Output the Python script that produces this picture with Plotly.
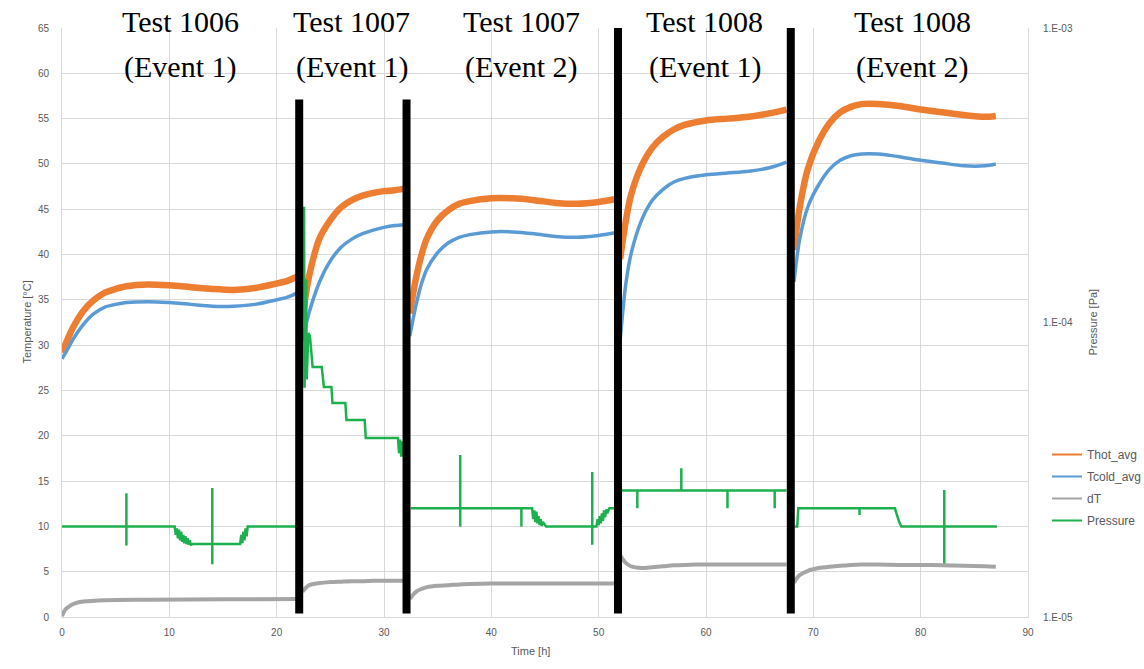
import plotly.graph_objects as go

# ---------------- data ----------------
t_seg1 = [0, 0.5, 1, 2, 3, 4, 5, 6, 8, 10, 12, 14, 16, 18, 20, 21, 22]
thot_seg1 = [29.2, 30.6, 31.9, 33.8, 35.0, 35.8, 36.2, 36.5, 36.7, 36.6, 36.4, 36.2, 36.1, 36.3, 36.8, 37.1, 37.6]
tcold_seg1 = [28.5, 29.5, 30.6, 32.3, 33.5, 34.2, 34.5, 34.7, 34.8, 34.7, 34.5, 34.3, 34.3, 34.5, 35.0, 35.3, 35.8]
t_dt_seg1 = [0, 0.3, 0.7, 1.2, 2, 4, 8, 15, 22]
dt_seg1 = [0.1, 0.8, 1.2, 1.5, 1.7, 1.85, 1.9, 1.95, 2.0]

t_seg2 = [22.4, 23, 24, 25, 26, 27, 28, 29, 30, 31, 32]
thot_seg2 = [33.0, 37.5, 41.8, 43.8, 45.2, 46.0, 46.5, 46.8, 47.0, 47.1, 47.3]
tcold_seg2 = [30.5, 33.5, 37.0, 39.3, 40.8, 41.7, 42.3, 42.7, 43.0, 43.2, 43.3]
dt_seg2 = [2.8, 3.5, 3.75, 3.85, 3.9, 3.95, 3.95, 4.0, 4.0, 4.0, 4.0]

t_seg3 = [32.4, 33, 33.5, 34, 35, 36, 37, 38, 40, 42, 44, 46, 48, 50, 51.5]
thot_seg3 = [33.5, 37.5, 40.0, 41.8, 43.8, 44.9, 45.6, 45.9, 46.2, 46.2, 46.0, 45.7, 45.6, 45.8, 46.1]
tcold_seg3 = [31.0, 34.5, 36.8, 38.4, 40.2, 41.3, 41.9, 42.2, 42.5, 42.5, 42.3, 42.0, 41.9, 42.1, 42.4]
dt_seg3 = [2.0, 2.8, 3.1, 3.3, 3.45, 3.5, 3.6, 3.65, 3.7, 3.7, 3.7, 3.7, 3.7, 3.7, 3.7]

t_seg4 = [52.0, 52.5, 53, 54, 55, 56, 57, 58, 60, 62, 64, 66, 67.5]
thot_seg4 = [39.5, 43.5, 46.5, 49.8, 51.8, 53.0, 53.8, 54.3, 54.8, 55.0, 55.2, 55.6, 56.0]
tcold_seg4 = [30.5, 36.5, 40.0, 43.8, 46.0, 47.2, 48.0, 48.4, 48.8, 49.0, 49.2, 49.6, 50.2]
dt_seg4 = [6.8, 6.0, 5.6, 5.4, 5.5, 5.6, 5.7, 5.75, 5.8, 5.8, 5.8, 5.8, 5.8]

t_seg5 = [68.2, 68.7, 69.5, 70.5, 71.5, 72.5, 73.5, 74.5, 76, 78, 80, 82, 84, 86, 87]
thot_seg5 = [40.5, 45.0, 49.5, 52.5, 54.5, 55.7, 56.3, 56.6, 56.6, 56.4, 56.0, 55.7, 55.4, 55.2, 55.3]
tcold_seg5 = [37.0, 41.5, 45.3, 47.7, 49.4, 50.4, 50.9, 51.1, 51.1, 50.8, 50.4, 50.1, 49.8, 49.8, 50.0]
dt_seg5 = [3.8, 4.6, 5.1, 5.4, 5.55, 5.65, 5.75, 5.8, 5.8, 5.75, 5.75, 5.7, 5.65, 5.6, 5.55]

# Pressure [Pa] (secondary log axis)
tp_seg1 = [0, 6.0, 6.0, 6.0, 6.0, 10.5, 10.6, 10.7, 10.8, 10.9, 11.0, 11.1, 11.2, 11.3, 11.4, 11.5, 11.6,
           11.7, 11.8, 11.9, 12.0, 12.2, 14.0, 14.0, 14.0, 14.0, 16.6, 16.7, 16.8, 16.9, 17.0, 17.1, 17.2,
           17.3, 17.5, 21.9, 21.95, 22.0]
p_seg1 = [2.03e-5, 2.03e-5, 2.63e-5, 1.75e-5, 2.03e-5, 2.03e-5, 1.9e-5, 2.0e-5, 1.85e-5, 1.98e-5, 1.82e-5,
          1.95e-5, 1.8e-5, 1.9e-5, 1.78e-5, 1.88e-5, 1.77e-5, 1.85e-5, 1.76e-5, 1.82e-5, 1.76e-5, 1.77e-5,
          1.77e-5, 2.74e-5, 1.51e-5, 1.77e-5, 1.77e-5, 1.9e-5, 1.78e-5, 1.95e-5, 1.82e-5, 2.0e-5, 1.88e-5,
          2.03e-5, 2.03e-5, 2.03e-5, 2.7e-5, 2.03e-5]
tp_seg2 = [22.55, 22.6, 22.75, 22.8, 22.95, 23.1, 23.35, 24.2, 24.4, 25.1, 25.2, 26.4, 26.5, 28.2, 28.3,
           31.3, 31.4, 31.5, 31.6, 31.7, 31.8, 31.9, 32.0]
p_seg2 = [2.47e-4, 6.0e-5, 1.4e-4, 6.4e-5, 9.2e-5, 9.0e-5, 7.06e-5, 7.06e-5, 6.04e-5, 6.04e-5, 5.33e-5,
          5.33e-5, 4.67e-5, 4.67e-5, 4.05e-5, 4.05e-5, 3.6e-5, 4.0e-5, 3.5e-5, 3.95e-5, 3.5e-5, 3.9e-5, 3.49e-5]
tp_seg3 = [32.5, 37.1, 37.1, 37.1, 37.1, 42.8, 42.8, 42.8, 43.8, 43.9, 44.0, 44.1, 44.2, 44.3, 44.4, 44.5,
           44.6, 44.7, 44.8, 45.1, 49.4, 49.4, 49.4, 49.4, 49.8, 49.9, 50.0, 50.1, 50.2, 50.3, 50.4, 50.5,
           50.6, 50.7, 50.8, 51.0, 51.8]
p_seg3 = [2.34e-5, 2.34e-5, 3.55e-5, 2.03e-5, 2.34e-5, 2.34e-5, 2.03e-5, 2.34e-5, 2.34e-5, 2.15e-5, 2.3e-5,
          2.1e-5, 2.28e-5, 2.08e-5, 2.2e-5, 2.05e-5, 2.15e-5, 2.04e-5, 2.1e-5, 2.03e-5, 2.03e-5, 3.11e-5,
          1.76e-5, 2.03e-5, 2.03e-5, 2.15e-5, 2.05e-5, 2.2e-5, 2.08e-5, 2.25e-5, 2.12e-5, 2.3e-5, 2.18e-5,
          2.32e-5, 2.25e-5, 2.34e-5, 2.34e-5]
tp_seg4 = [52.1, 53.6, 53.6, 53.6, 57.7, 57.7, 57.7, 62.0, 62.0, 62.0, 66.4, 66.4, 66.4, 67.5]
p_seg4 = [2.69e-5, 2.69e-5, 2.34e-5, 2.69e-5, 2.69e-5, 3.2e-5, 2.69e-5, 2.69e-5, 2.34e-5, 2.69e-5,
          2.69e-5, 2.34e-5, 2.69e-5, 2.69e-5]
tp_seg5 = [68.3, 68.5, 68.6, 74.3, 74.3, 74.3, 77.6, 77.8, 78.0, 78.2, 82.2, 82.2, 82.2, 82.2, 87.1]
p_seg5 = [2.03e-5, 2.03e-5, 2.34e-5, 2.34e-5, 2.22e-5, 2.34e-5, 2.34e-5, 2.2e-5, 2.1e-5, 2.03e-5,
          2.03e-5, 2.7e-5, 1.52e-5, 2.03e-5, 2.03e-5]

event_times = [22.1, 32.1, 51.8, 67.9]
event_tops = [57.1, 57.1, 65, 65]
label_centers = [11.0, 27.0, 42.8, 59.9, 79.2]
label_line1 = ["Test 1006", "Test 1007", "Test 1007", "Test 1008", "Test 1008"]
label_line2 = ["(Event 1)", "(Event 1)", "(Event 2)", "(Event 1)", "(Event 2)"]

x_ticks = [0, 10, 20, 30, 40, 50, 60, 70, 80, 90]
y_ticks = [0, 5, 10, 15, 20, 25, 30, 35, 40, 45, 50, 55, 60, 65]
p_ticks = [1e-5, 1e-4, 1e-3]
p_ticktext = ["1.E-05", "1.E-04", "1.E-03"]

ORANGE = "#ED7D31"
BLUE = "#5B9BD5"
GREY = "#A5A5A5"
GREEN = "#1DB04E"


def joined(*segs):
    out = []
    for i, s in enumerate(segs):
        if i:
            out.append(None)
        out.extend(s)
    return out


fig = go.Figure()

t_all = joined(t_seg1, t_seg2, t_seg3, t_seg4, t_seg5)
fig.add_trace(go.Scatter(x=t_all, y=joined(thot_seg1, thot_seg2, thot_seg3, thot_seg4, thot_seg5),
                         mode="lines", line=dict(color=ORANGE, width=6.5, shape="spline", smoothing=0.8),
                         showlegend=False, hoverinfo="skip"))
fig.add_trace(go.Scatter(x=t_all, y=joined(tcold_seg1, tcold_seg2, tcold_seg3, tcold_seg4, tcold_seg5),
                         mode="lines", line=dict(color=BLUE, width=3.5, shape="spline", smoothing=0.8),
                         showlegend=False, hoverinfo="skip"))
fig.add_trace(go.Scatter(x=joined(t_dt_seg1, t_seg2, t_seg3, t_seg4, t_seg5),
                         y=joined(dt_seg1, dt_seg2, dt_seg3, dt_seg4, dt_seg5),
                         mode="lines", line=dict(color=GREY, width=4, shape="spline", smoothing=0.8),
                         showlegend=False, hoverinfo="skip"))
fig.add_trace(go.Scatter(x=joined(tp_seg1, tp_seg2, tp_seg3, tp_seg4, tp_seg5),
                         y=joined(p_seg1, p_seg2, p_seg3, p_seg4, p_seg5), yaxis="y2",
                         mode="lines", line=dict(color=GREEN, width=2.5),
                         showlegend=False, hoverinfo="skip"))

# legend entries (thin lines as in the reference legend)
for name, col in [("Thot_avg", ORANGE), ("Tcold_avg", BLUE), ("dT", GREY), ("Pressure", GREEN)]:
    fig.add_trace(go.Scatter(x=[None], y=[None], mode="lines", name=name, legendgroup=name,
                             line=dict(color=col, width=2)))

shapes = []
# white boxes behind the test labels
for c in label_centers:
    shapes.append(dict(type="rect", xref="x", yref="paper", x0=c - 6.6, x1=c + 6.6,
                       y0=(617 - 96) / 589, y1=1.06, fillcolor="white", line=dict(width=0), layer="between"))
for tx, top in zip(event_times, event_tops):
    shapes.append(dict(type="line", xref="x", yref="y", x0=tx, x1=tx, y0=0.4, y1=top,
                       line=dict(color="black", width=8), layer="above"))

annotations = []
for c, l1, l2 in zip(label_centers, label_line1, label_line2):
    for txt, ypx in [(l1, 22), (l2, 67)]:
        annotations.append(dict(x=c, xref="x", y=(617 - ypx) / 589, yref="paper", text=txt,
                                showarrow=False, xanchor="center", yanchor="middle",
                                font=dict(family="Liberation Serif", size=30, color="black")))

axis_font = dict(family="Liberation Sans", size=11, color="#595959")
annotations += [
    dict(x=(18 - 62) / 966, xref="paper", y=0.5, yref="paper", text="Temperature [°C]", textangle=-90,
         showarrow=False, font=axis_font),
    dict(x=(1100 - 62) / 966, xref="paper", y=0.5, yref="paper", text="Pressure [Pa]", textangle=-90,
         showarrow=False, font=axis_font),
    dict(x=(530 - 62) / 966, xref="paper", y=(617 - 659) / 589, yref="paper", text="Time [h]",
         showarrow=False, font=axis_font),
]

tick_font = dict(family="Liberation Sans", size=10, color="#595959")
fig.update_layout(
    width=1144, height=669,
    margin=dict(l=62, r=116, t=28, b=52, autoexpand=False),
    paper_bgcolor="white", plot_bgcolor="white",
    xaxis=dict(range=[0, 90], tickvals=x_ticks, showgrid=True, gridcolor="#D9D9D9", gridwidth=1,
               showline=True, linecolor="#D9D9D9", zeroline=False, tickfont=tick_font,
               ticklabelstandoff=6),
    yaxis=dict(range=[0, 65], tickvals=y_ticks, showgrid=True, gridcolor="#D9D9D9", gridwidth=1,
               showline=True, linecolor="#D9D9D9", zeroline=False, tickfont=tick_font,
               ticklabelstandoff=10),
    yaxis2=dict(type="log", range=[-5, -3], overlaying="y", side="right", tickvals=p_ticks,
                ticktext=p_ticktext, showgrid=False, showline=True, linecolor="#D9D9D9",
                zeroline=False, tickfont=tick_font, ticklabelstandoff=12),
    legend=dict(x=(1047 - 62) / 966, xanchor="left", y=(617 - 440) / 589, yanchor="top",
                font=dict(family="Liberation Sans", size=12, color="#595959"),
                bgcolor="rgba(0,0,0,0)", traceorder="grouped", tracegroupgap=3),
    shapes=shapes, annotations=annotations,
)

fig.write_html("out.html")
